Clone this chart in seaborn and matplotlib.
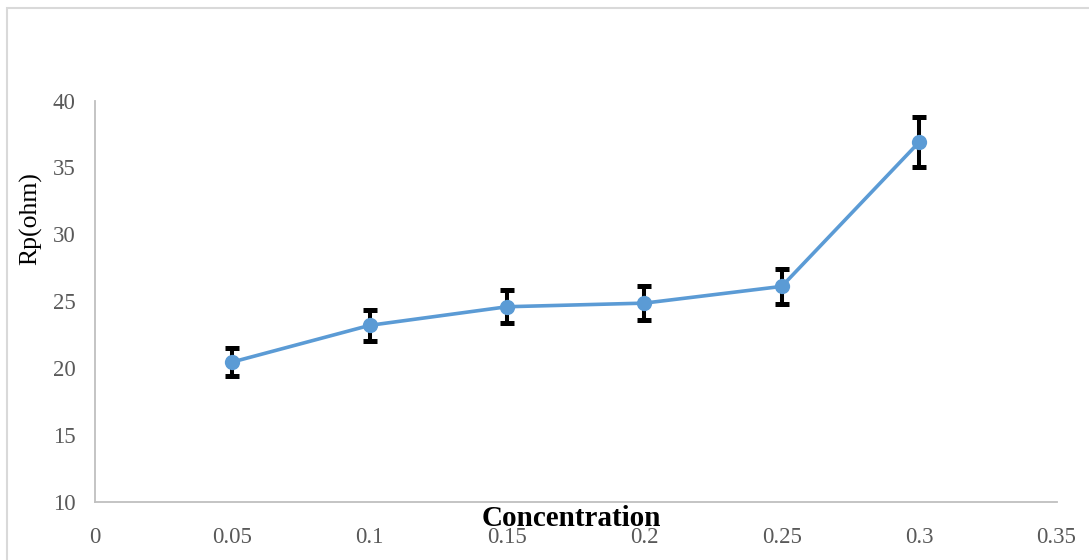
import matplotlib
matplotlib.use("Agg")
import matplotlib.pyplot as plt
import seaborn as sns
import pandas as pd
from matplotlib.patches import Rectangle

concentration = [0.05, 0.10, 0.15, 0.20, 0.25, 0.30]
rp_ohm = [20.46, 23.2, 24.59, 24.86, 26.11, 36.89]
rp_err = [1.05, 1.15, 1.25, 1.25, 1.3, 1.84]
x_ticks = [0, 0.05, 0.1, 0.15, 0.2, 0.25, 0.3, 0.35]
x_tick_labels = ["0", "0.05", "0.1", "0.15", "0.2", "0.25", "0.3", "0.35"]
y_ticks = [10, 15, 20, 25, 30, 35, 40]

df = pd.DataFrame({"Concentration": concentration, "Rp": rp_ohm, "err": rp_err})

sns.set_theme(style="white")
plt.rcParams["font.family"] = ["Liberation Serif", "DejaVu Serif"]

fig = plt.figure(figsize=(10.89, 5.6), dpi=100)
ax = fig.add_axes([95 / 1089, 1 - 502 / 560, (1056.5 - 95) / 1089, (502 - 100.5) / 560])

ax.errorbar(df["Concentration"], df["Rp"], yerr=df["err"], fmt="none",
            ecolor="black", elinewidth=2.9, capsize=5, capthick=3.6, zorder=2)
sns.lineplot(data=df, x="Concentration", y="Rp", ax=ax, color="#5B9BD5",
             linewidth=2.6, marker="o", markersize=11, markeredgewidth=0,
             zorder=3)

ax.set_xlim(0, 0.35)
ax.set_ylim(10, 40)
ax.set_xticks(x_ticks)
ax.set_xticklabels(x_tick_labels)
ax.set_yticks(y_ticks)
ax.tick_params(axis="both", length=0, labelsize=16.5, labelcolor="#595959")
ax.tick_params(axis="y", pad=14)
ax.tick_params(axis="x", pad=18)

for side in ["top", "right"]:
    ax.spines[side].set_visible(False)
for side in ["left", "bottom"]:
    ax.spines[side].set_color("#BFBFBF")
    ax.spines[side].set_linewidth(1.3)

ax.set_xlabel("Concentration", fontsize=21, fontweight="bold", color="black", va="center")
ax.xaxis.set_label_coords((571 - 95) / 961.5, (502 - 519) / 401.5)
ax.set_ylabel("Rp(ohm)", fontsize=18.5, color="black", va="center", ha="center")
ax.yaxis.set_label_coords((31 - 95) / 961.5, (502 - 219) / 401.5)

fig.patches.append(Rectangle((7 / 1089, -0.05), 1.1, 1 - 8 / 560 + 0.05,
                             transform=fig.transFigure, fill=False,
                             edgecolor="#D9D9D9", linewidth=1.5, zorder=0))

fig.savefig("out.png", dpi=100)
